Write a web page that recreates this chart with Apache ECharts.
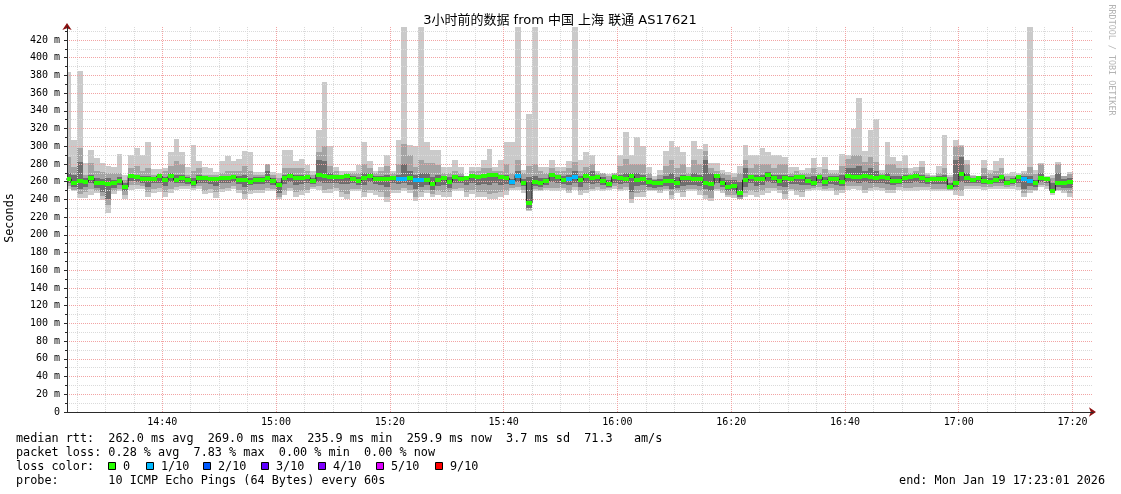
<!DOCTYPE html>
<html>
<head>
<meta charset="utf-8">
<title>SmokePing</title>
<script src="https://cdn.jsdelivr.net/npm/echarts@6.0.0/dist/echarts.min.js"></script>
<style>
html,body{margin:0;padding:0;background:#fff;overflow:hidden}
#chart{width:1121px;height:494px}
</style>
</head>
<body>
<div id="chart"></div>
<script>
// ---- data (one 60 s step per entry, first step starts 14:23) ----
const firstStepMinute = 23;           // minutes after 14:00
const timeLabels = ['14:40','15:00','15:20','15:40','16:00','16:20','16:40','17:00','17:20'];
const timeLabelMinutes = [40,60,80,100,120,140,160,180,200];

// 10 pings per step, sorted: ping1 = fastest ... ping10 = slowest (ms)
const ping10 = [
384,307,385,281,296,287,281,278,277,291,
268,290,298,290,305,274,274,276,293,308,
293,277,302,283,277,275,271,283,289,283,
286,295,294,271,271,280,271,270,296,296,
283,286,279,272,318,373,300,277,272,272,
272,279,305,283,272,277,290,272,307,450,
302,300,450,305,296,296,277,277,284,277,
267,277,277,284,297,277,284,305,305,450,
273,336,450,277,277,285,277,277,283,450,
285,294,290,272,270,269,270,290,316,290,
310,300,277,266,273,295,306,299,293,277,
306,297,303,281,281,273,271,270,278,301,
290,290,298,294,290,290,288,277,277,273,
275,287,277,288,273,273,291,290,320,355,
295,318,331,273,305,288,283,290,275,277,
283,270,268,278,313,268,307,302,285,268,
267,284,273,283,287,269,271,270,272,450,
273,281,267,268,282,267,271];
const ping9 = [
288,277,298,268,281,272,271,270,270,270,
262,275,278,272,275,268,270,272,278,283,
280,268,272,275,268,268,268,270,272,272,
272,278,272,268,268,280,268,264,276,276,
276,276,272,268,294,300,278,272,268,270,
270,270,280,276,270,272,278,270,280,303,
290,277,285,281,281,279,270,270,272,270,
266,272,272,276,276,272,272,280,270,285,
270,278,280,272,270,275,272,272,276,282,
272,277,280,270,270,266,270,278,286,280,
280,280,270,263,268,278,285,275,280,270,
284,280,295,276,272,270,268,265,270,285,
275,280,280,280,275,280,280,270,272,270,
270,275,270,274,270,270,278,286,290,290,
282,288,282,270,280,280,275,275,270,272,
277,268,266,270,275,265,300,300,280,266,
266,275,270,272,275,266,267,268,270,277,
269,280,265,264,280,267,269];
const ping8 = [
270,268,282,264,268,264,263,264,262,265,
259,268,268,266,267,265,267,265,270,268,
268,265,264,268,266,265,265,266,267,267,
266,268,264,265,265,272,264,260,268,270,
268,268,268,264,285,283,270,268,266,268,
266,265,270,270,266,266,268,266,268,280,
272,268,270,270,265,268,266,265,268,266,
266,269,268,269,270,270,268,268,263,272,
263,265,266,264,264,270,268,266,268,272,
266,270,272,268,265,262,268,268,270,270,
270,268,264,262,263,266,270,265,268,266,
270,268,285,270,269,264,262,262,260,275,
268,268,268,271,268,268,268,266,268,268,
265,266,268,265,266,266,268,276,275,278,
272,276,272,268,270,266,266,268,268,270,
268,265,265,266,268,259,285,288,270,264,
266,266,264,266,268,262,264,267,266,266,
262,270,265,258,270,263,264];
const medianRtt = [
263,259,261,260,264,258,258,257,259,261,
254,266,265,263,263,263,266,262,266,262,
264,262,258,264,264,263,263,264,264,265,
262,262,260,262,262,264,261,256,264,267,
264,264,265,261,268,267,265,265,265,266,
263,261,264,267,263,263,263,264,263,263,
264,262,262,262,257,262,264,260,265,263,
264,267,265,266,268,268,265,264,260,267,
259,236,260,258,261,268,265,262,263,265,
262,266,264,265,261,257,265,264,263,266,
262,263,260,259,259,261,261,259,264,264,
263,263,259,257,266,259,254,255,247,262,
265,263,263,268,264,261,264,263,265,265,
261,259,265,260,263,263,260,266,265,265,
267,265,264,265,264,261,261,264,265,267,
264,262,263,263,263,254,259,269,264,262,
264,261,260,262,265,259,261,265,263,261,
259,264,263,250,258,259,260];
const ping3 = [
258,254,252,254,258,253,248,240,253,256,
249,261,260,258,254,258,258,255,260,258,
258,257,255,259,258,257,255,258,258,260,
257,254,256,257,257,258,256,247,257,260,
256,257,258,257,260,258,259,259,257,257,
258,256,256,260,257,256,254,258,257,258,
256,252,254,256,251,255,256,253,258,258,
256,259,256,257,256,258,256,257,256,260,
255,230,255,254,256,260,258,257,256,259,
254,258,257,259,256,254,259,257,258,248,
255,256,254,253,254,255,252,253,255,256,
256,255,252,249,258,254,249,249,243,254,
258,255,256,260,258,255,254,257,257,256,
256,255,258,255,257,256,255,260,260,259,
260,259,259,259,257,256,257,258,259,260,
259,257,257,257,257,252,254,260,259,258,
258,257,257,258,259,256,257,259,252,255,
254,260,258,247,254,253,253];
const ping2 = [
255,251,246,248,252,250,244,234,250,252,
245,256,256,255,248,252,253,248,252,254,
255,255,253,255,250,252,248,252,253,255,
251,246,250,251,251,253,252,243,250,253,
248,250,251,254,255,251,252,253,248,246,
252,252,248,251,250,248,243,251,251,253,
251,243,248,251,246,250,248,248,252,253,
248,251,248,248,246,247,248,250,253,254,
251,228,252,251,253,253,253,253,250,254,
249,251,252,254,252,253,255,252,254,241,
247,248,251,251,250,252,245,250,248,252,
252,249,245,242,252,250,245,245,241,247,
250,248,250,253,253,251,246,252,250,248,
252,253,254,252,253,250,251,255,255,255,
251,253,254,253,251,251,254,253,253,254,
254,254,252,252,252,251,249,250,255,255,
255,254,254,255,255,254,255,254,247,251,
251,256,255,247,251,250,247];
const ping1 = [
252,249,242,242,245,247,239,225,246,249,
241,251,252,252,243,247,248,243,247,251,
252,252,251,252,246,247,242,248,249,252,
247,241,246,247,247,250,249,241,245,249,
243,245,247,252,251,247,247,249,243,241,
249,249,243,247,245,243,237,247,247,249,
247,238,243,247,243,245,243,243,249,249,
243,246,243,243,241,241,243,245,251,251,
247,227,249,249,251,249,249,251,247,251,
245,247,249,251,249,251,252,249,251,236,
243,243,249,249,247,249,241,247,243,249,
249,245,241,238,249,247,243,242,240,243,
245,243,245,247,249,247,240,249,245,243,
249,251,251,249,249,245,247,251,252,251,
247,249,251,249,247,247,251,249,249,249,
251,251,249,249,249,249,245,244,252,252,
252,251,252,252,252,252,252,251,243,247,
249,254,252,245,249,247,243];
// lost pings per step (out of 10)
const lossTenths = [
0,0,0,0,0,0,0,0,0,0,
0,0,0,0,0,0,0,0,0,0,
0,0,0,0,0,0,0,0,0,0,
0,0,0,0,0,0,0,0,0,0,
0,0,0,0,0,0,0,0,0,0,
0,0,0,0,0,0,0,0,1,1,
0,1,1,0,0,0,0,0,0,0,
0,0,0,0,0,0,0,0,1,1,
0,0,0,0,0,0,0,0,1,1,
0,0,0,0,0,0,0,0,0,0,
0,0,0,0,0,0,0,0,0,0,
0,0,0,0,0,0,0,0,0,0,
0,0,0,0,0,0,0,0,0,0,
0,0,0,0,0,0,0,0,0,0,
0,0,0,0,0,0,0,0,0,0,
0,0,0,0,0,0,0,0,0,0,
0,0,0,0,0,0,0,0,1,1,
0,0,0,0,0,0,0];
const lossLevels = [0,1,2,3,4,5,9];
const lossLabels = ['0','1/10','2/10','3/10','4/10','5/10','9/10'];
const lossColors = ['#26ff00','#00b8ff','#0059ff','#5e00ff','#7e00ff','#dd00ff','#ff0000'];

const titleText = '3小时前的数据 from 中国 上海 联通 AS17621';
const statLines = [
  'median rtt:  262.0 ms avg  269.0 ms max  235.9 ms min  259.9 ms now  3.7 ms sd  71.3   am/s',
  'packet loss: 0.28 % avg  7.83 % max  0.00 % min  0.00 % now',
  'loss color:',
  'probe:       10 ICMP Echo Pings (64 Bytes) every 60s'
];
const endText = 'end: Mon Jan 19 17:23:01 2026';
const yUnit = ' m';

// ---- chart ----
const MONO = '"DejaVu Sans Mono", monospace';
const chart = echarts.init(document.getElementById('chart'), null, {renderer: 'canvas', width: 1121, height: 494});

const n = medianRtt.length;
const smokeData = medianRtt.map((m, i) => [firstStepMinute + i, firstStepMinute + i + 1,
  ping1[i], ping2[i], ping3[i], m, ping8[i], ping9[i], ping10[i]]);
const medianData = medianRtt.map((m, i) => [firstStepMinute + i, firstStepMinute + i + 1, m, lossTenths[i]]);
const medianLine = medianRtt.map((m, i) => [firstStepMinute + i, m]);
medianLine.push([firstStepMinute + n, medianRtt[n - 1]]);

const X_MIN = 23.25, X_MAX = 203.6, Y_MAX = 434.7;

function xRange(params, api) {
  const cs = params.coordSys;
  const x0 = Math.max(cs.x, Math.round(api.coord([api.value(0), 0])[0]));
  const x1 = Math.min(cs.x + cs.width, Math.round(api.coord([api.value(1), 0])[0]));
  return [x0, x1];
}

function renderSmoke(params, api) {
  const cs = params.coordSys;
  const [x0, x1] = xRange(params, api);
  const yy = v => Math.round(Math.max(cs.y, Math.min(cs.y + cs.height, api.coord([api.value(0), v])[1])));
  const band = (a, b, fill) => {
    const ya = yy(a), yb = yy(b);
    return {type: 'rect', shape: {x: x0, y: yb, width: x1 - x0, height: Math.max(1, ya - yb)}, style: {fill: fill}};
  };
  return {type: 'group', children: [
    band(api.value(2), api.value(8), '#cacaca'),
    band(api.value(3), api.value(7), '#a4a4a4'),
    band(api.value(4), api.value(6), '#6e6e6e')
  ]};
}

function renderMedian(params, api) {
  const [x0, x1] = xRange(params, api);
  const ym = Math.round(api.coord([api.value(0), api.value(2)])[1]);
  const color = lossColors[Math.max(0, lossLevels.indexOf(api.value(3)))];
  return {type: 'rect', shape: {x: x0, y: ym - 2, width: x1 - x0, height: 4}, style: {fill: color}};
}

function timeLabel(v) {
  const r = Math.round(v);
  if (Math.abs(v - r) > 1e-6) return '';
  const k = timeLabelMinutes.indexOf(r);
  return k >= 0 ? timeLabels[k] : '';
}
function msLabel(v) {
  if (v === 0) return '0';
  const r = Math.round(v);
  if (Math.abs(v - r) > 1e-6 || r % 20 !== 0) return '';
  return r + yUnit;
}

const graphics = [];
graphics.push({type: 'text', x: 560, y: 21, style: {text: titleText,
  font: '13px "DejaVu Sans", "Noto Sans CJK SC", sans-serif', fill: '#000',
  align: 'center', verticalAlign: 'middle', textAlign: 'center', textVerticalAlign: 'middle'}});
graphics.push({type: 'text', x: 10, y: 218, rotation: Math.PI / 2, style: {text: 'Seconds',
  font: '11.8px ' + MONO, fill: '#000', align: 'center', verticalAlign: 'middle', textAlign: 'center', textVerticalAlign: 'middle'}});
graphics.push({type: 'text', x: 1111, y: 60, rotation: -Math.PI / 2, style: {text: 'RRDTOOL / TOBI OETIKER',
  font: '8.4px ' + MONO, fill: '#b4b4b4', align: 'center', verticalAlign: 'middle', textAlign: 'center', textVerticalAlign: 'middle'}});
const lineY = [439, 453, 467, 481];
statLines.forEach((t, i) => {
  graphics.push({type: 'text', x: 16, y: lineY[i], style: {text: t, font: '11.8px ' + MONO, fill: '#000',
    align: 'left', verticalAlign: 'middle', textAlign: 'left', textVerticalAlign: 'middle'}});
});
graphics.push({type: 'text', x: 1105, y: lineY[3], style: {text: endText, font: '11.8px ' + MONO, fill: '#000',
  align: 'right', verticalAlign: 'middle', textAlign: 'right', textVerticalAlign: 'middle'}});
const boxX = [108, 146, 203, 261, 318, 376, 435];
lossLabels.forEach((lab, i) => {
  graphics.push({type: 'rect', shape: {x: boxX[i] + 0.5, y: 462.5, width: 7, height: 7},
    style: {fill: lossColors[i], stroke: '#000', lineWidth: 1}});
  graphics.push({type: 'text', x: boxX[i] + 15, y: lineY[2], style: {text: lab, font: '11.8px ' + MONO, fill: '#000',
    align: 'left', verticalAlign: 'middle', textAlign: 'left', textVerticalAlign: 'middle'}});
});

const option = {
  backgroundColor: '#ffffff',
  animation: false,
  grid: {left: 67, right: 28, top: 27, bottom: 82, containLabel: false, outerBoundsMode: 'none'},
  xAxis: [
    {
      type: 'value', min: X_MIN, max: X_MAX, minInterval: 20, maxInterval: 20, splitNumber: 9,
      position: 'bottom', z: 4,
      axisLine: {show: true, onZero: false, lineStyle: {color: '#2a2a2a', width: 1}},
      axisTick: {show: false},
      axisLabel: {show: true, margin: 5, fontFamily: MONO, fontSize: 10, color: '#000',
        showMinLabel: false, showMaxLabel: false, formatter: timeLabel},
      splitLine: {show: true, showMinLine: false, showMaxLine: false,
        lineStyle: {color: '#f2a4a4', type: [1, 1], width: 1}}
    },
    {
      type: 'value', min: X_MIN, max: X_MAX, minInterval: 5, maxInterval: 5, splitNumber: 36,
      position: 'bottom', z: 3,
      axisLine: {show: true, onZero: false, symbol: ['none', 'arrow'], symbolSize: [7, 7], symbolOffset: [0, 3],
        lineStyle: {color: '#8b1010', width: 1}},
      axisTick: {show: false}, axisLabel: {show: false},
      splitLine: {show: true, showMinLine: false, showMaxLine: false,
        lineStyle: {color: '#dadada', type: [1, 1], width: 1}}
    }
  ],
  yAxis: [
    {
      type: 'value', min: 0, max: Y_MAX, interval: 20, position: 'left', z: 4,
      axisLine: {show: true, onZero: false, lineStyle: {color: '#2a2a2a', width: 1}},
      axisTick: {show: true, length: 3, lineStyle: {color: '#2a2a2a'}},
      axisLabel: {show: true, margin: 7, fontFamily: MONO, fontSize: 10, color: '#000',
        showMaxLabel: false, formatter: msLabel},
      splitLine: {show: true, showMinLine: false, showMaxLine: false,
        lineStyle: {color: '#f2a4a4', type: [1, 1], width: 1}}
    },
    {
      type: 'value', min: 0, max: Y_MAX, interval: 10, position: 'left', z: 3,
      axisLine: {show: true, onZero: false, symbol: ['none', 'arrow'], symbolSize: [7, 7], symbolOffset: [0, 4],
        lineStyle: {color: '#8b1010', width: 1}},
      axisTick: {show: true, length: 2, lineStyle: {color: '#2a2a2a'}},
      axisLabel: {show: false},
      splitLine: {show: true, showMinLine: false, showMaxLine: false,
        lineStyle: {color: '#dadada', type: [1, 1], width: 1}}
    }
  ],
  series: [
    {
      type: 'custom', name: 'smoke', xAxisIndex: 0, yAxisIndex: 0, z: 2, clip: true,
      renderItem: renderSmoke, data: smokeData, encode: {x: [0, 1], y: [2, 8]}, silent: true
    },
    {
      type: 'line', name: 'median', xAxisIndex: 0, yAxisIndex: 0, z: 5, step: 'end',
      showSymbol: false, symbol: 'none', data: medianLine, clip: true,
      lineStyle: {color: '#202020', width: 1}, silent: true
    },
    {
      type: 'custom', name: 'loss', xAxisIndex: 0, yAxisIndex: 0, z: 6, clip: true,
      renderItem: renderMedian, data: medianData, encode: {x: [0, 1], y: 2}, silent: true
    }
  ],
  graphic: {elements: graphics}
};
chart.setOption(option);
</script>
</body>
</html>
